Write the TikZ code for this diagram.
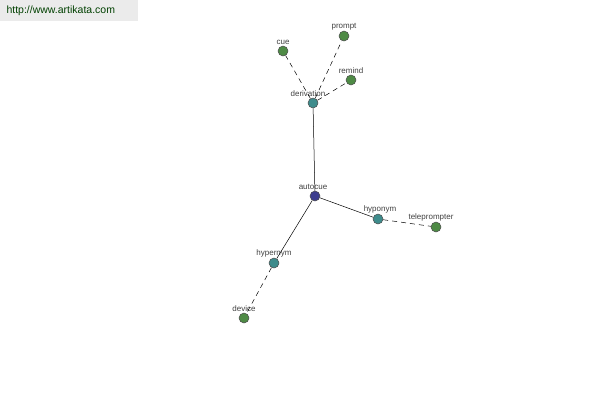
\documentclass[tikz,border=0pt]{standalone}
\usepackage{fontspec}
\setmainfont{Liberation Sans}
\begin{document}
\begin{tikzpicture}[
    x=1pt, y=-1pt,
    dot/.style={circle, draw=black!70, line width=0.5pt, inner sep=0pt, minimum size=10pt, fill=#1},
    dot/.default=leafgreen,
    lbl/.style={font=\fontsize{8}{9}\selectfont, text=black!75, inner sep=0.5pt},
    link/.style={black, line width=0.5pt},
    weak/.style={black, line width=0.5pt, dash pattern=on 5pt off 4pt}
]
\definecolor{leafgreen}{HTML}{4E8A45}
\definecolor{midteal}{HTML}{3E8C8C}
\definecolor{rootblue}{HTML}{3E3E8E}
\useasboundingbox (0,0) rectangle (600,400);
% Watermark
\fill[black!8] (0,0) rectangle (138,21);
\node[font=\fontsize{10.5}{12}\selectfont, text=green!25!black, anchor=west] (site) at (3,11) {http://www.artikata.com};

% Centre and relations
\node[dot=rootblue, label={[lbl, xshift=-2pt]above:autocue}] (autocue) at (315,196) {};
\node[dot=midteal, label={[lbl, xshift=-5pt]above:derivation}] (derivation) at (313,103) {};
\node[dot=midteal, label={[lbl, xshift=2pt]above:hyponym}] (hyponym) at (378,219) {};
\node[dot=midteal, label={[lbl]above:hypernym}] (hypernym) at (274,263) {};

% Leaves
\node[dot, label={[lbl]above:cue}] (cue) at (283,51) {};
\node[dot, label={[lbl]above:prompt}] (prompt) at (344,36) {};
\node[dot, label={[lbl]above:remind}] (remind) at (351,80) {};
\node[dot, label={[lbl, xshift=-5pt]above:teleprompter}] (teleprompter) at (436,227) {};
\node[dot, label={[lbl]above:device}] (device) at (244,318) {};

% Solid links
\draw[link] (autocue) -- (derivation);
\draw[link] (autocue) -- (hyponym);
\draw[link] (autocue) -- (hypernym);

% Dashed links
\draw[weak] (derivation) -- (cue);
\draw[weak] (derivation) -- (prompt);
\draw[weak] (derivation) -- (remind);
\draw[weak] (hyponym) -- (teleprompter);
\draw[weak] (hypernym) -- (device);
\end{tikzpicture}
\end{document}
